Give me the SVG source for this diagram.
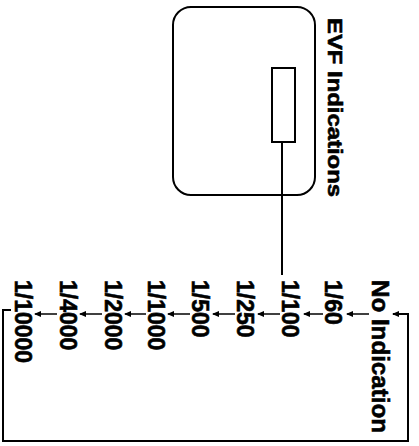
<svg xmlns="http://www.w3.org/2000/svg" width="419" height="446" viewBox="0 0 419 446">
<defs>
<style>
.t{font-family:"Liberation Sans",Arial,sans-serif;font-weight:bold;font-size:23px;fill:#000;stroke:#000;stroke-width:0.6}
.ln{fill:none;stroke:#000;stroke-width:2}
.ar{fill:none;stroke:#000;stroke-width:1.5}
</style>
<marker id="ah" markerWidth="7" markerHeight="6" refX="6" refY="3" orient="auto" markerUnits="userSpaceOnUse">
<path d="M0,0 L7,3 L0,6 Z" fill="#000"/>
</marker>
</defs>
<rect width="419" height="446" fill="#fff"/>
<g id="evf">
<rect x="173" y="7" width="142" height="188" rx="18" ry="18" class="ln"/>
<rect x="272" y="68" width="23" height="74" class="ln"/>
<text class="t" style="font-size:20px" transform="translate(328,18) rotate(90)" textLength="179" lengthAdjust="spacingAndGlyphs">EVF Indications</text>
</g>
<g id="n0"><text class="t" transform="translate(372,280) rotate(90)" textLength="153" lengthAdjust="spacingAndGlyphs">No Indication</text></g>
<g id="n1"><text class="t" transform="translate(325,280) rotate(90)">1/60</text></g>
<g id="n2"><text class="t" transform="translate(282,280) rotate(90)">1/100</text></g>
<g id="n3"><text class="t" transform="translate(237,280) rotate(90)">1/250</text></g>
<g id="n4"><text class="t" transform="translate(192,280) rotate(90)">1/500</text></g>
<g id="n5"><text class="t" transform="translate(148,280) rotate(90)">1/1000</text></g>
<g id="n6"><text class="t" transform="translate(105,280) rotate(90)">1/2000</text></g>
<g id="n7"><text class="t" transform="translate(60,280) rotate(90)">1/4000</text></g>
<g id="n8"><text class="t" transform="translate(15,280) rotate(90)">1/10000</text></g>
<g id="connectors">
<line x1="282" y1="142" x2="282" y2="275" class="ln"/>
<line x1="369" y1="314" x2="347" y2="314" class="ar" marker-end="url(#ah)"/>
<line x1="323" y1="314" x2="304" y2="314" class="ar" marker-end="url(#ah)"/>
<line x1="280" y1="314" x2="258" y2="314" class="ar" marker-end="url(#ah)"/>
<line x1="235" y1="314" x2="213" y2="314" class="ar" marker-end="url(#ah)"/>
<line x1="190" y1="314" x2="168" y2="314" class="ar" marker-end="url(#ah)"/>
<line x1="146" y1="314" x2="125" y2="314" class="ar" marker-end="url(#ah)"/>
<line x1="102" y1="314" x2="80" y2="314" class="ar" marker-end="url(#ah)"/>
<line x1="57" y1="314" x2="35" y2="314" class="ar" marker-end="url(#ah)"/>
<polyline points="11,310 3,310 3,441 408,441 408,314 393,314" class="ln" marker-end="url(#ah)"/>
</g>
</svg>
